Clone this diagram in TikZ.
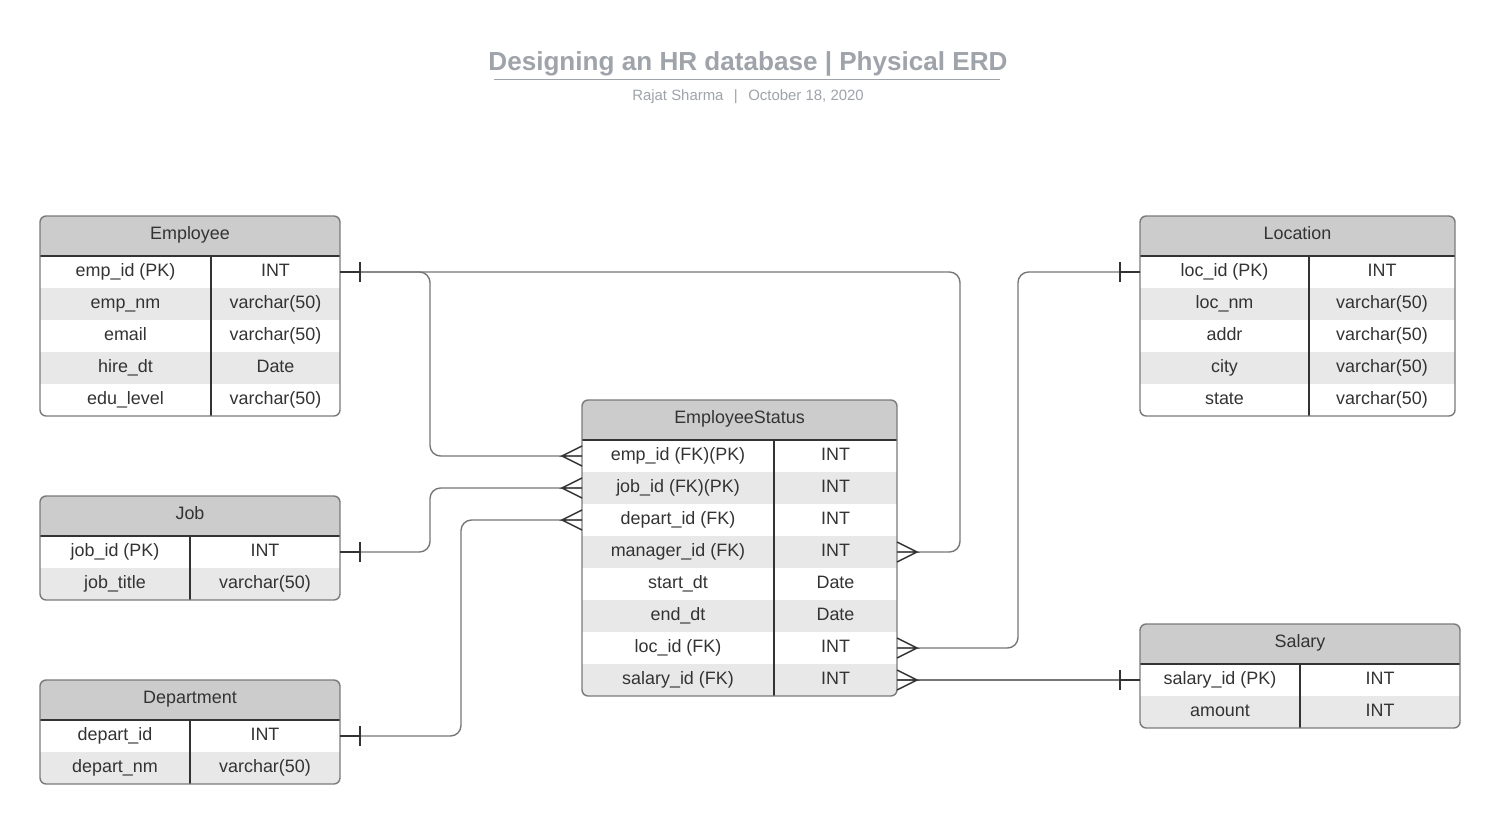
\documentclass[tikz,border=0pt]{standalone}
\usepackage{fontspec}
\setmainfont{Liberation Sans}
\usetikzlibrary{calc}
\definecolor{hdrgray}{HTML}{CCCCCC}
\definecolor{rowgray}{HTML}{E8E8E8}
\definecolor{bordergray}{HTML}{7A7A7A}
\definecolor{darkline}{HTML}{333333}
\definecolor{txt}{HTML}{333333}
\definecolor{titlegray}{HTML}{9FA3AA}
\definecolor{linegray}{HTML}{777777}
\tikzset{
  cell/.style={inner sep=0pt, outer sep=0pt, font=\fontsize{10.2}{12}\selectfont, text=txt, text height=0.7em, text depth=0pt, yshift=0.04cm},
  rowbox/.style={inner sep=0pt, outer sep=0pt, draw=none, minimum height=0.64cm},
  hdrbox/.style={inner sep=0pt, outer sep=0pt, draw=none, fill=hdrgray, minimum height=0.8cm},
  hdrtext/.style={inner sep=0pt, outer sep=0pt, font=\fontsize{10.2}{12}\selectfont, text=txt, text height=0.7em, text depth=0pt, yshift=0.06cm},
  rel/.style={draw=linegray, line width=0.8pt, rounded corners=6pt},
  endmark/.style={draw=darkline, line width=0.8pt},
  titletext/.style={font=\fontsize{14.85}{18}\bfseries\selectfont, text=titlegray, text height=0.7em, text depth=0pt, inner sep=0pt},
  subtext/.style={font=\fontsize{8.5}{10}\selectfont, text=titlegray, text height=0.7em, text depth=0pt, inner sep=0pt},
}
\newcommand\erdtable[8]{%
  \pgfmathsetmacro\erdbot{#3+40+32*#6}%
  \pgfmathsetmacro\erdw{(#4-#2)*0.02}%
  \pgfmathsetmacro\erdcx{(#2+#4)/2}%
  \pgfmathsetmacro\erdla{(#2+#5)/2}%
  \pgfmathsetmacro\erdlb{(#5+#4)/2}%
  \begin{scope}
    \clip[rounded corners=3.5pt] (#2,#3) rectangle (#4,\erdbot);
    \node[hdrbox, minimum width=\erdw cm] (#1) at (\erdcx,{#3+20}) {};
    \node[hdrtext] (#1-title) at (#1.center) {#7};
    \foreach \a/\b [count=\i] in {#8} {
      \ifodd\i\relax \def\rf{white}\else \def\rf{rowgray}\fi
      \node[rowbox, fill=\rf, minimum width=\erdw cm] (#1-\i) at (\erdcx,{#3+24+32*\i}) {};
      \node[cell] (#1-\i-a) at (\erdla,{#3+24+32*\i}) {\a};
      \node[cell] (#1-\i-b) at (\erdlb,{#3+24+32*\i}) {\b};
    }
  \end{scope}
  \draw[darkline, line width=0.7pt] (#2,{#3+40}) -- (#4,{#3+40}) (#5,{#3+40}) -- (#5,\erdbot);
  \draw[bordergray, line width=0.8pt, rounded corners=3.5pt] (#2,#3) rectangle (#4,\erdbot);
}
\begin{document}
\begin{tikzpicture}[x=0.02cm, y=-0.02cm]
\useasboundingbox[fill=white] (0,0) rectangle (1500,824);

\node[titletext] (title) at (748,64) {Designing an HR database | Physical ERD};
\draw[titlegray, line width=1pt] ($(title.south west)+(6,9)$) -- ($(title.south east)+(-8,9)$);
\node[subtext] (sub) at (748,94) {Rajat Sharma\hspace{0.7em}|\hspace{0.7em}October 18, 2020};

\erdtable{emp}{40}{216}{340}{211}{5}{Employee}{emp\_id (PK)/INT, emp\_nm/varchar(50), email/varchar(50), hire\_dt/Date, edu\_level/varchar(50)}
\erdtable{job}{40}{496}{340}{190}{2}{Job}{job\_id (PK)/INT, job\_title/varchar(50)}
\erdtable{dep}{40}{680}{340}{190}{2}{Department}{depart\_id/INT, depart\_nm/varchar(50)}
\erdtable{es}{582}{400}{897}{774}{8}{EmployeeStatus}{emp\_id (FK)(PK)/INT, job\_id (FK)(PK)/INT, depart\_id (FK)/INT, manager\_id (FK)/INT, start\_dt/Date, end\_dt/Date, loc\_id (FK)/INT, salary\_id (FK)/INT}
\erdtable{loc}{1140}{216}{1455}{1309}{5}{Location}{loc\_id (PK)/INT, loc\_nm/varchar(50), addr/varchar(50), city/varchar(50), state/varchar(50)}
\erdtable{sal}{1140}{624}{1460}{1300}{2}{Salary}{salary\_id (PK)/INT, amount/INT}

% connectors
\draw[rel] (emp-1.east) -- ++(90,0) |- (es-1.west);
\draw[rel] (emp-1.east) -- ++(620,0) |- (es-4.east);
\draw[rel] (job-1.east) -- ++(90,0) |- (es-2.west);
\draw[rel] (dep-1.east) -- ++(121,0) |- (es-3.west);
\draw[rel] (loc-1.west) -- ++(-122,0) |- (es-7.east);
\draw[rel] (sal-1.west) -- (es-8.east);

% one ends
\draw[endmark] (emp-1.east) -- ++(20,0) ++(0,-10) -- ++(0,20);
\draw[endmark] (job-1.east) -- ++(20,0) ++(0,-10) -- ++(0,20);
\draw[endmark] (dep-1.east) -- ++(20,0) ++(0,-10) -- ++(0,20);
\draw[endmark] (loc-1.west) -- ++(-20,0) ++(0,-10) -- ++(0,20);
\draw[endmark] (sal-1.west) -- ++(-20,0) ++(0,-10) -- ++(0,20);

% many ends
\draw[endmark] (es-1.west) -- ++(-20,0) -- ++(20,-10) ++(-20,10) -- ++(20,10);
\draw[endmark] (es-2.west) -- ++(-20,0) -- ++(20,-10) ++(-20,10) -- ++(20,10);
\draw[endmark] (es-3.west) -- ++(-20,0) -- ++(20,-10) ++(-20,10) -- ++(20,10);
\draw[endmark] (es-4.east) -- ++(20,0) -- ++(-20,-10) ++(20,10) -- ++(-20,10);
\draw[endmark] (es-7.east) -- ++(20,0) -- ++(-20,-10) ++(20,10) -- ++(-20,10);
\draw[endmark] (es-8.east) -- ++(20,0) -- ++(-20,-10) ++(20,10) -- ++(-20,10);
\end{tikzpicture}
\end{document}
